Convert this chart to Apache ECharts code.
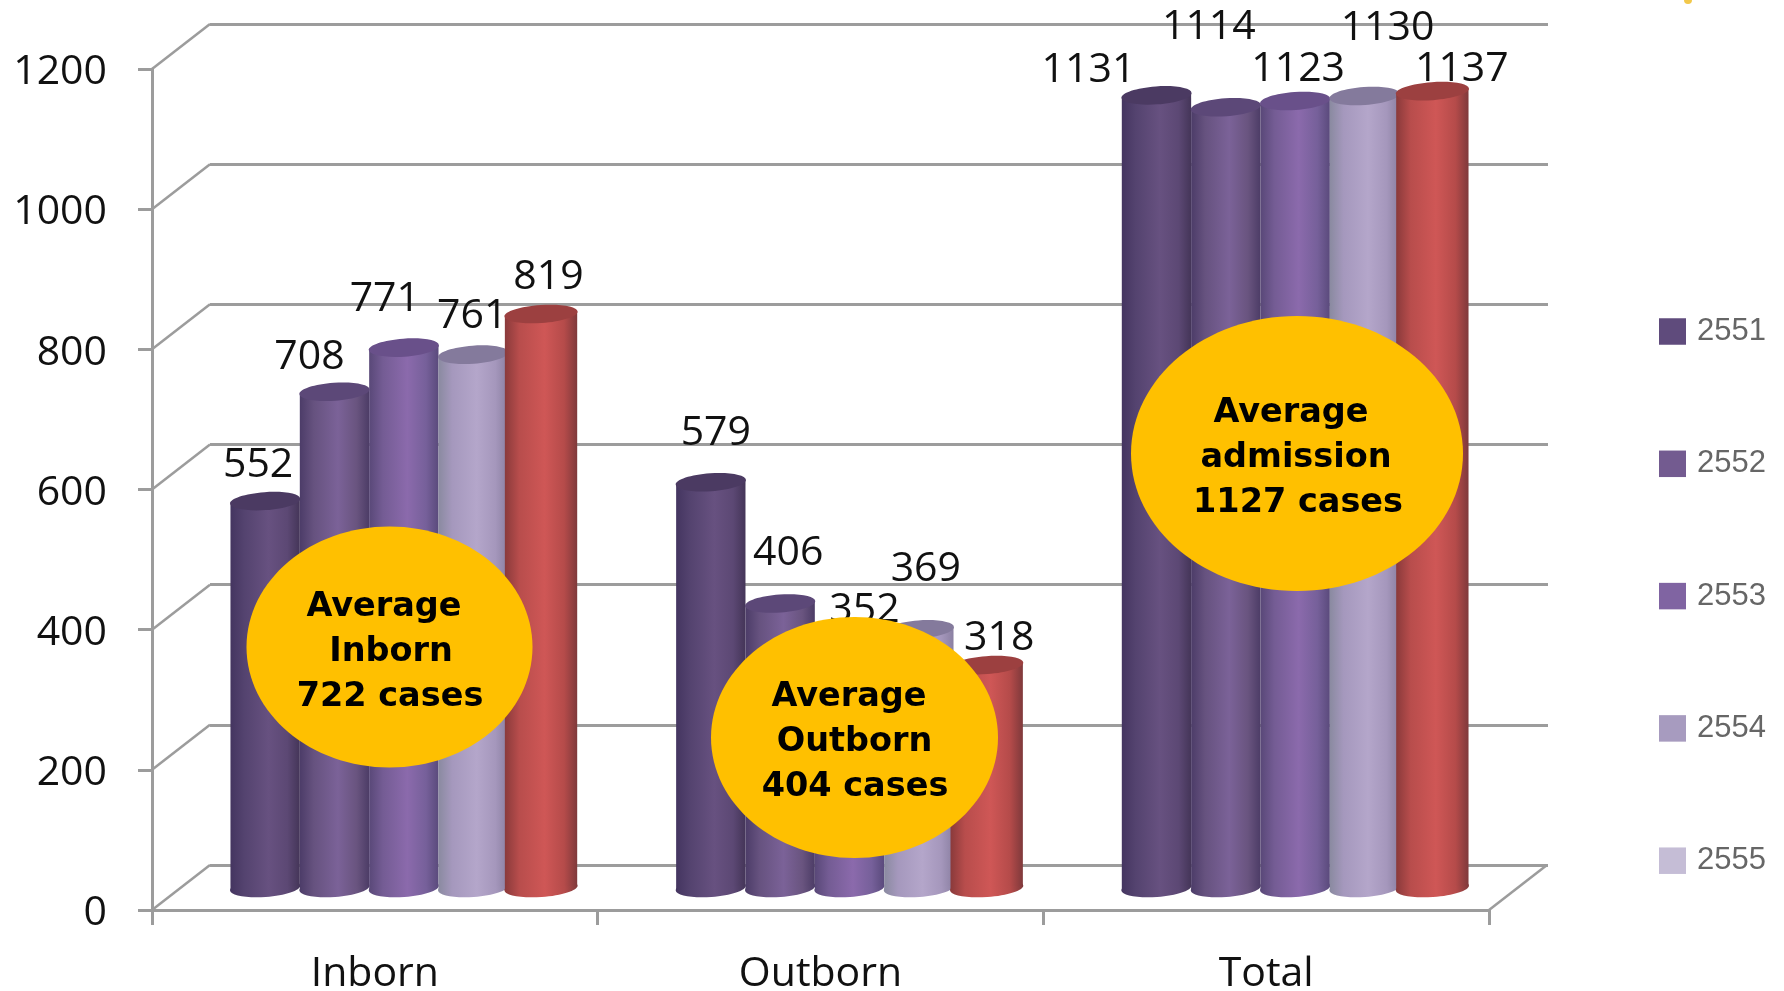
<!DOCTYPE html>
<html>
<head>
<meta charset="utf-8">
<style>html,body{margin:0;padding:0;background:#fff}#c{width:1784px;height:991px}</style>
<script src="https://cdn.jsdelivr.net/npm/echarts@6/dist/echarts.min.js"></script>
</head>
<body>
<div id="c"></div>
<script>
const categories = ['Inborn', 'Outborn', 'Total'];
const years = ['2551', '2552', '2553', '2554', '2555'];
const v2551 = [552, 579, 1131];
const v2552 = [708, 406, 1114];
const v2553 = [771, 352, 1123];
const v2554 = [761, 369, 1130];
const v2555 = [819, 318, 1137];
const yTicks = [0, 200, 400, 600, 800, 1000, 1200];
const seriesValues = [v2551, v2552, v2553, v2554, v2555];

// Styling, kept apart from the data
const legendColors = ['#5F4B7C', '#735B90', '#8064A2', '#A79BBF', '#C5BDD6'];
const bodyStops = [
  ['#443560', '#54436f', '#675180', '#5c4874', '#443558'],
  ['#4c3c68', '#66527f', '#7b6298', '#69547f', '#4c3c66'],
  ['#594878', '#745c94', '#8b6aac', '#76609a', '#5a4a7c'],
  ['#8a8aa0', '#a598bd', '#b4a6ca', '#a597bc', '#8b80a2'],
  ['#8a3a3b', '#b84d4c', '#cf5756', '#b54b4a', '#7f393b']
];
const topColors = ['#4b3a62', '#5c4878', '#69508a', '#847a9c', '#9c4040'];
const leftExtend = [0, 0, 0, 0, 3];
// label centre offset from each bar's top centre: [category][series]
const labelOffsets = [
  [[-7, -35.5], [-25, -34.5], [-19, -48.5], [-1, -38.5], [6, -36.5]],
  [[5, -48.5], [8, -50.5], [15, -30.5], [7, -60.5], [11, -26.5]],
  [[-68, -25.5], [-17, -79.5], [3, -31.5], [23, -67.5], [28, -21.5]]
];
const bands = [
  {cx: 389.5, cy: 647, rx: 143, ry: 120.5, lines: [['Average', -5.5, -39.5], ['Inborn', 1.5, 5.5], ['722 cases', 0.5, 50.5]]},
  {cx: 854.5, cy: 737.5, rx: 143.5, ry: 120.5, lines: [['Average', -5.5, -40], ['Outborn', 0, 5], ['404 cases', 0.5, 50]]},
  {cx: 1297, cy: 453.5, rx: 166, ry: 137.5, lines: [['Average', -6, -40], ['admission', -1, 5], ['1127 cases', 1, 50]]}
];

const LINE = '#9c9c9c';
const AXIS_FONT = '"Open Sans"';
const DEPTH_X = 58, DEPTH_Y = 45;
const GAP = 0.222, TILT = 0.07, CAP_RY = 9;

function barBox(api, cat, s, val) {
  const w = api.size([1, 0])[0] * (1 - GAP) / years.length;
  const c = api.coord([cat, val]);
  const base = api.coord([cat, 0]);
  const x = c[0] + (s - (years.length - 1) / 2) * w;
  return {w, x, top: c[1], bot: base[1]};
}

function cylinder(s) {
  return function (params, api) {
    const b = barBox(api, api.value(0), s, api.value(1));
    const ext = leftExtend[s];
    const w = b.w + ext;
    const mid = b.x - ext / 2;
    const d = w * Math.tan(TILT) / 2;
    const l = mid - w / 2, r = mid + w / 2;
    const st = bodyStops[s];
    const fill = new echarts.graphic.LinearGradient(0, 0, 1, 0, [
      {offset: 0, color: st[0]}, {offset: 0.2, color: st[1]}, {offset: 0.55, color: st[2]},
      {offset: 0.82, color: st[3]}, {offset: 1, color: st[4]}
    ]);
    return {
      type: 'group',
      children: [
        {type: 'ellipse', x: mid, y: b.bot, rotation: TILT,
          shape: {cx: 0, cy: 0, rx: w / 2 + 0.5, ry: CAP_RY}, style: {fill}},
        {type: 'polygon',
          shape: {points: [[l, b.top + d], [r, b.top - d], [r, b.bot - d], [l, b.bot + d]]}, style: {fill}},
        {type: 'ellipse', x: mid, y: b.top, rotation: TILT,
          shape: {cx: 0, cy: 0, rx: w / 2 + 0.5, ry: CAP_RY}, style: {fill: topColors[s]}}
      ]
    };
  };
}

const barSeries = years.map((y, s) => ({
  name: y,
  type: 'custom',
  xAxisIndex: 1,
  yAxisIndex: 1,
  z: 3,
  clip: false,
  encode: {x: 0, y: 1},
  data: seriesValues[s].map((v, i) => [i, v]),
  renderItem: cylinder(s),
  itemStyle: {color: legendColors[s]}
}));

const labelData = [];
categories.forEach((c, i) => years.forEach((y, s) => labelData.push([i, seriesValues[s][i], s])));

const labelSeries = {
  name: 'values',
  type: 'custom',
  xAxisIndex: 1,
  yAxisIndex: 1,
  z: 4,
  clip: false,
  silent: true,
  encode: {x: 0, y: 1},
  data: labelData,
  renderItem: function (params, api) {
    const cat = api.value(0), val = api.value(1), s = api.value(2);
    const b = barBox(api, cat, s, val);
    const o = labelOffsets[cat][s];
    return {
      type: 'text',
      x: b.x + o[0],
      y: b.top + o[1],
      style: {text: String(val), font: '41px ' + AXIS_FONT, fill: '#111', align: 'center', verticalAlign: 'middle'}
    };
  }
};

const depthSeries = {
  name: 'depth',
  type: 'custom',
  xAxisIndex: 0,
  yAxisIndex: 0,
  z: 1,
  clip: false,
  silent: true,
  encode: {x: 0, y: 1},
  data: yTicks.map(v => [0, v]),
  renderItem: function (params, api) {
    const p = api.coord([0, api.value(1)]);
    const bw = api.size([1, 0])[0];
    const x = p[0] - bw / 2;
    const style = {stroke: LINE, lineWidth: 2.5};
    const children = [{type: 'line', shape: {x1: x, y1: p[1], x2: x + DEPTH_X, y2: p[1] - DEPTH_Y}, style}];
    if (api.value(1) === 0) {
      const xr = x + bw * categories.length;
      children.push({type: 'line', shape: {x1: xr, y1: p[1], x2: xr + DEPTH_X, y2: p[1] - DEPTH_Y}, style});
    }
    return {type: 'group', children};
  }
};

const graphicEls = [];
bands.forEach(b => {
  graphicEls.push({type: 'ellipse', z: 10, shape: {cx: b.cx, cy: b.cy, rx: b.rx, ry: b.ry}, style: {fill: '#FFC000'}});
  b.lines.forEach(l => graphicEls.push({
    type: 'text', z: 11, x: b.cx + l[1], y: b.cy + l[2],
    style: {text: l[0], font: 'bold 33.5px "DejaVu Sans"', fill: '#000', align: 'center', verticalAlign: 'middle'}
  }));
});
graphicEls.push({type: 'circle', z: 1, shape: {cx: 1688, cy: 0, r: 4}, style: {fill: '#f2c84b'}});

const hiddenCat = {type: 'category', data: categories, show: false};
const hiddenVal = {type: 'value', min: 0, max: 1200, interval: 200, show: false};

const option = {
  animation: false,
  backgroundColor: '#fff',
  grid: [
    {left: 152, top: 69, width: 1337, height: 841, outerBoundsMode: 'none'},
    {left: 181, top: 47, width: 1337, height: 841, outerBoundsMode: 'none'},
    {left: 210, top: 24, width: 1338, height: 841, outerBoundsMode: 'none'}
  ],
  xAxis: [
    {
      type: 'category', gridIndex: 0, data: categories,
      axisLine: {show: true, lineStyle: {color: LINE, width: 3}},
      axisTick: {show: true, length: 15, lineStyle: {color: LINE, width: 3}},
      axisLabel: {margin: 44, fontFamily: AXIS_FONT, fontSize: 41, color: '#111'}
    },
    Object.assign({gridIndex: 1}, hiddenCat),
    Object.assign({gridIndex: 2}, hiddenCat)
  ],
  yAxis: [
    {
      type: 'value', gridIndex: 0, min: 0, max: 1200, interval: 200,
      axisLine: {show: true, lineStyle: {color: LINE, width: 3}},
      axisTick: {show: true, length: 14, lineStyle: {color: LINE, width: 3}},
      axisLabel: {margin: 45, fontFamily: AXIS_FONT, fontSize: 41, color: '#111', verticalAlign: 'top', lineHeight: 7, formatter: v => String(v)},
      splitLine: {show: false}
    },
    Object.assign({gridIndex: 1}, hiddenVal),
    {
      type: 'value', gridIndex: 2, min: 0, max: 1200, interval: 200,
      axisLine: {show: false}, axisTick: {show: false}, axisLabel: {show: false},
      splitLine: {show: true, lineStyle: {color: LINE, width: 3}}
    }
  ],
  legend: {
    orient: 'vertical',
    left: 1659,
    top: 316,
    padding: 0,
    icon: 'rect',
    itemWidth: 27,
    itemHeight: 26.5,
    itemGap: 101.3,
    selectedMode: false,
    textStyle: {fontFamily: '"Liberation Sans"', fontSize: 31, color: '#666', padding: [0, 0, 0, 6]},
    data: years.map((y, s) => ({name: y, itemStyle: {color: legendColors[s]}}))
  },
  series: [depthSeries].concat(barSeries, [labelSeries]),
  graphic: {elements: graphicEls}
};

const chart = echarts.init(document.getElementById('c'), null, {renderer: 'canvas', width: 1784, height: 991});
chart.setOption(option);
</script>
</body>
</html>
